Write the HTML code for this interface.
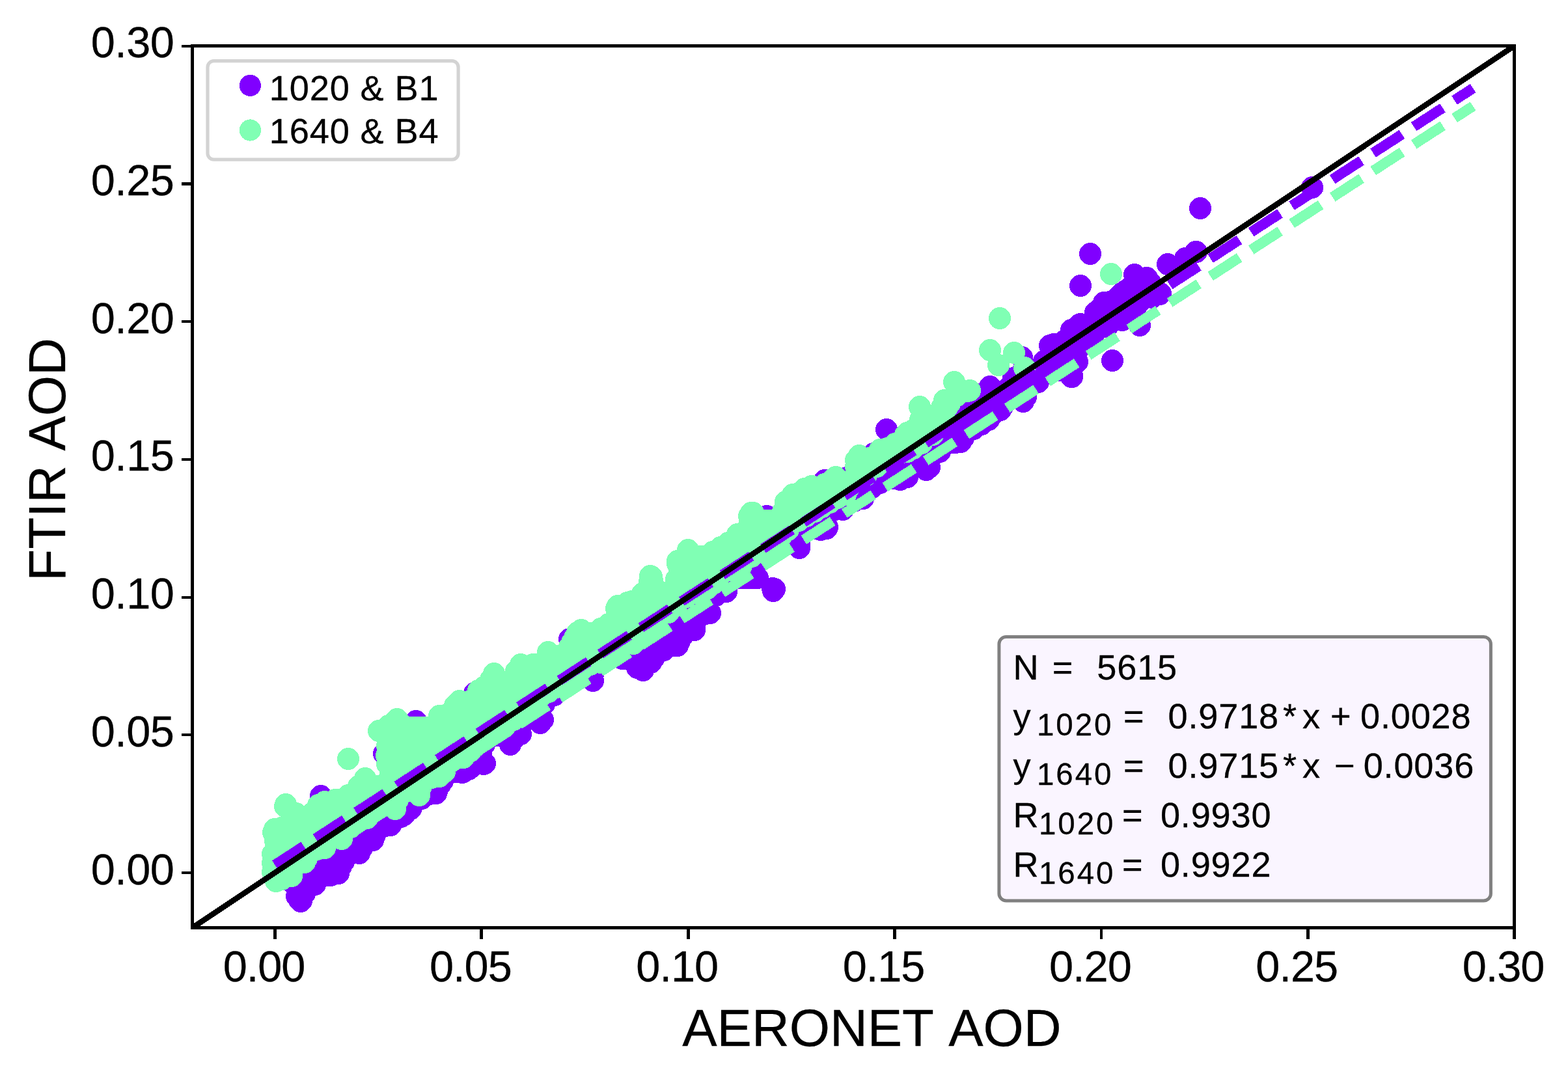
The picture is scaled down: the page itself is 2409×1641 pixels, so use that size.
<!DOCTYPE html>
<html lang="en"><head><meta charset="utf-8"><title>FTIR AOD vs AERONET AOD</title>
<style>html,body{margin:0;padding:0;background:#fff;width:2409px;height:1641px}svg{display:block}text{font-family:"Liberation Sans",Arial,sans-serif;fill:#000;stroke:#000;stroke-width:.3px;font-kerning:none}</style></head>
<body>
<svg width="2409" height="1641" viewBox="0 0 2409 1641" shape-rendering="crispEdges">
<rect width="2409" height="1641" fill="#fff"/>
<clipPath id="ax"><rect x="295.5" y="70.5" width="2031.0" height="1355.0"/></clipPath>
<g clip-path="url(#ax)" shape-rendering="crispEdges">
<path d="M1648 521h0M1644 528h0M1652 528h0M1624 534h0M1632 534h0M1640 534h0M1648 534h0M1620 541h0M1628 541h0M1636 541h0M1644 541h0M1652 541h0M1616 548h0M1624 548h0M1632 548h0M1640 548h0M1648 548h0M1604 555h0M1612 555h0M1620 555h0M1628 555h0M1636 555h0M1644 555h0M1652 555h0M1600 562h0M1608 562h0M1616 562h0M1624 562h0M1632 562h0M1640 562h0M1648 562h0M1572 569h0M1580 569h0M1588 569h0M1596 569h0M1604 569h0M1612 569h0M1620 569h0M1628 569h0M1636 569h0M1644 569h0M1568 576h0M1576 576h0M1584 576h0M1592 576h0M1600 576h0M1564 583h0M1572 583h0M1580 583h0M1588 583h0M1596 583h0M1560 590h0M1568 590h0M1576 590h0M1584 590h0M1548 597h0M1556 597h0M1564 597h0M1572 597h0M1512 604h0M1520 604h0M1528 604h0M1536 604h0M1544 604h0M1552 604h0M1560 604h0M1568 604h0M1500 611h0M1508 611h0M1516 611h0M1524 611h0M1532 611h0M1540 611h0M1548 611h0M1556 611h0M1564 611h0M1572 611h0M1488 618h0M1496 618h0M1504 618h0M1512 618h0M1520 618h0M1528 618h0M1536 618h0M1544 618h0M1476 625h0M1484 625h0M1492 625h0M1500 625h0M1508 625h0M1516 625h0M1524 625h0M1532 625h0M1540 625h0M1464 631h0M1472 631h0M1480 631h0M1488 631h0M1496 631h0M1504 631h0M1512 631h0M1520 631h0M1528 631h0M1460 638h0M1468 638h0M1476 638h0M1484 638h0M1492 638h0M1500 638h0M1508 638h0M1516 638h0M1524 638h0M1456 645h0M1464 645h0M1472 645h0M1480 645h0M1488 645h0M1496 645h0M1504 645h0M1512 645h0M1444 652h0M1452 652h0M1460 652h0M1468 652h0M1476 652h0M1484 652h0M1492 652h0M1500 652h0M1508 652h0M1432 659h0M1440 659h0M1448 659h0M1456 659h0M1464 659h0M1472 659h0M1480 659h0M1488 659h0M1496 659h0M1420 666h0M1428 666h0M1436 666h0M1444 666h0M1452 666h0M1460 666h0M1468 666h0M1476 666h0M1484 666h0M1416 673h0M1424 673h0M1432 673h0M1440 673h0M1448 673h0M1456 673h0M1464 673h0M1472 673h0M1480 673h0M1404 680h0M1412 680h0M1420 680h0M1428 680h0M1436 680h0M1444 680h0M1452 680h0M1460 680h0M1468 680h0M1400 687h0M1408 687h0M1416 687h0M1424 687h0M1432 687h0M1440 687h0M1448 687h0M1388 694h0M1396 694h0M1404 694h0M1412 694h0M1420 694h0M1428 694h0M1436 694h0M1444 694h0M1376 701h0M1384 701h0M1392 701h0M1400 701h0M1408 701h0M1416 701h0M1424 701h0M1432 701h0M1364 708h0M1372 708h0M1380 708h0M1388 708h0M1396 708h0M1404 708h0M1412 708h0M1420 708h0M1428 708h0M1352 715h0M1360 715h0M1368 715h0M1376 715h0M1384 715h0M1392 715h0M1400 715h0M1408 715h0M1416 715h0M1424 715h0M1332 721h0M1340 721h0M1348 721h0M1356 721h0M1364 721h0M1372 721h0M1380 721h0M1388 721h0M1396 721h0M1328 728h0M1336 728h0M1344 728h0M1352 728h0M1360 728h0M1368 728h0M1376 728h0M1384 728h0M1392 728h0M1324 735h0M1332 735h0M1340 735h0M1348 735h0M1356 735h0M1364 735h0M1372 735h0M1380 735h0M1328 742h0M1336 742h0M1344 742h0M1352 742h0M1324 749h0M1332 749h0M1340 749h0M1280 756h0M1288 756h0M1296 756h0M1304 756h0M1312 756h0M1320 756h0M1328 756h0M1252 763h0M1260 763h0M1268 763h0M1276 763h0M1284 763h0M1292 763h0M1300 763h0M1308 763h0M1316 763h0M1324 763h0M1240 770h0M1248 770h0M1256 770h0M1264 770h0M1272 770h0M1280 770h0M1288 770h0M1296 770h0M1304 770h0M1312 770h0M1228 777h0M1236 777h0M1244 777h0M1252 777h0M1260 777h0M1268 777h0M1276 777h0M1284 777h0M1292 777h0M1300 777h0M1224 784h0M1232 784h0M1240 784h0M1248 784h0M1256 784h0M1264 784h0M1272 784h0M1280 784h0M1220 791h0M1228 791h0M1236 791h0M1244 791h0M1252 791h0M1260 791h0M1216 798h0M1224 798h0M1232 798h0M1240 798h0M1248 798h0M1256 798h0M1264 798h0M1212 805h0M1220 805h0M1228 805h0M1236 805h0M1244 805h0M1252 805h0M1260 805h0M1160 812h0M1168 812h0M1176 812h0M1184 812h0M1192 812h0M1200 812h0M1208 812h0M1216 812h0M1224 812h0M1232 812h0M1240 812h0M1248 812h0M1256 812h0M1264 812h0M1164 818h0M1172 818h0M1180 818h0M1188 818h0M1196 818h0M1204 818h0M1212 818h0M1220 818h0M1228 818h0M1160 825h0M1168 825h0M1176 825h0M1184 825h0M1192 825h0M1200 825h0M1208 825h0M1216 825h0M1224 825h0M1156 832h0M1164 832h0M1172 832h0M1180 832h0M1188 832h0M1196 832h0M1204 832h0M1212 832h0M1228 832h0M1144 839h0M1152 839h0M1160 839h0M1168 839h0M1176 839h0M1184 839h0M1192 839h0M1200 839h0M1140 846h0M1148 846h0M1156 846h0M1164 846h0M1172 846h0M1180 846h0M1188 846h0M1120 853h0M1128 853h0M1136 853h0M1144 853h0M1152 853h0M1160 853h0M1168 853h0M1176 853h0M1108 860h0M1116 860h0M1124 860h0M1132 860h0M1140 860h0M1148 860h0M1156 860h0M1164 860h0M1096 867h0M1104 867h0M1112 867h0M1120 867h0M1128 867h0M1136 867h0M1144 867h0M1152 867h0M1160 867h0M1076 874h0M1084 874h0M1092 874h0M1100 874h0M1108 874h0M1116 874h0M1124 874h0M1132 874h0M1140 874h0M1148 874h0M1156 874h0M1064 881h0M1072 881h0M1080 881h0M1088 881h0M1096 881h0M1104 881h0M1112 881h0M1120 881h0M1128 881h0M1136 881h0M1144 881h0M1152 881h0M1160 881h0M1060 888h0M1068 888h0M1076 888h0M1084 888h0M1092 888h0M1100 888h0M1108 888h0M1116 888h0M1124 888h0M1132 888h0M1140 888h0M1148 888h0M1156 888h0M1164 888h0M1056 895h0M1064 895h0M1072 895h0M1080 895h0M1088 895h0M1096 895h0M1104 895h0M1112 895h0M1120 895h0M1052 902h0M1060 902h0M1068 902h0M1076 902h0M1084 902h0M1092 902h0M1100 902h0M1108 902h0M1116 902h0M1008 909h0M1048 909h0M1056 909h0M1064 909h0M1072 909h0M1080 909h0M1088 909h0M1096 909h0M1104 909h0M1112 909h0M1012 915h0M1052 915h0M1060 915h0M1068 915h0M1076 915h0M1084 915h0M1092 915h0M1100 915h0M1008 922h0M1016 922h0M1040 922h0M1048 922h0M1056 922h0M1064 922h0M1072 922h0M1080 922h0M1088 922h0M1004 929h0M1012 929h0M1020 929h0M1028 929h0M1036 929h0M1044 929h0M1052 929h0M1060 929h0M1068 929h0M1076 929h0M1084 929h0M992 936h0M1000 936h0M1008 936h0M1016 936h0M1024 936h0M1032 936h0M1040 936h0M1048 936h0M1056 936h0M1064 936h0M1072 936h0M1080 936h0M1088 936h0M972 943h0M980 943h0M988 943h0M996 943h0M1004 943h0M1012 943h0M1020 943h0M1028 943h0M1036 943h0M1044 943h0M1052 943h0M1060 943h0M1068 943h0M1076 943h0M1084 943h0M960 950h0M968 950h0M976 950h0M984 950h0M992 950h0M1000 950h0M1008 950h0M1016 950h0M1024 950h0M1032 950h0M1040 950h0M1048 950h0M1056 950h0M1064 950h0M1072 950h0M964 957h0M972 957h0M980 957h0M988 957h0M996 957h0M1004 957h0M1012 957h0M1020 957h0M1028 957h0M1036 957h0M1044 957h0M1052 957h0M1060 957h0M1068 957h0M960 964h0M968 964h0M976 964h0M984 964h0M992 964h0M1000 964h0M1008 964h0M1016 964h0M1024 964h0M1032 964h0M1040 964h0M1048 964h0M1056 964h0M1064 964h0M948 971h0M956 971h0M964 971h0M972 971h0M980 971h0M988 971h0M996 971h0M1004 971h0M1012 971h0M1020 971h0M1028 971h0M1036 971h0M1044 971h0M1052 971h0M936 978h0M944 978h0M952 978h0M960 978h0M968 978h0M976 978h0M984 978h0M992 978h0M1000 978h0M1008 978h0M1016 978h0M1024 978h0M1032 978h0M1040 978h0M1048 978h0M900 985h0M908 985h0M916 985h0M924 985h0M932 985h0M940 985h0M948 985h0M956 985h0M964 985h0M972 985h0M980 985h0M988 985h0M996 985h0M1004 985h0M1012 985h0M1020 985h0M1028 985h0M1036 985h0M1044 985h0M896 992h0M904 992h0M912 992h0M920 992h0M928 992h0M936 992h0M944 992h0M952 992h0M960 992h0M968 992h0M976 992h0M984 992h0M992 992h0M1000 992h0M1008 992h0M1016 992h0M1024 992h0M1032 992h0M1040 992h0M892 999h0M900 999h0M908 999h0M916 999h0M924 999h0M932 999h0M940 999h0M948 999h0M956 999h0M964 999h0M972 999h0M980 999h0M988 999h0M996 999h0M1004 999h0M1012 999h0M1020 999h0M888 1006h0M896 1006h0M904 1006h0M912 1006h0M920 1006h0M928 1006h0M936 1006h0M944 1006h0M952 1006h0M960 1006h0M968 1006h0M976 1006h0M984 1006h0M992 1006h0M1000 1006h0M1008 1006h0M884 1012h0M892 1012h0M900 1012h0M908 1012h0M916 1012h0M924 1012h0M932 1012h0M956 1012h0M964 1012h0M972 1012h0M980 1012h0M988 1012h0M996 1012h0M1004 1012h0M880 1019h0M888 1019h0M896 1019h0M904 1019h0M912 1019h0M920 1019h0M976 1019h0M984 1019h0M992 1019h0M852 1026h0M860 1026h0M868 1026h0M876 1026h0M884 1026h0M892 1026h0M900 1026h0M908 1026h0M916 1026h0M988 1026h0M840 1033h0M848 1033h0M856 1033h0M864 1033h0M872 1033h0M880 1033h0M888 1033h0M896 1033h0M904 1033h0M912 1033h0M812 1040h0M820 1040h0M828 1040h0M836 1040h0M844 1040h0M852 1040h0M860 1040h0M868 1040h0M876 1040h0M884 1040h0M908 1040h0M808 1047h0M816 1047h0M824 1047h0M832 1047h0M840 1047h0M848 1047h0M856 1047h0M864 1047h0M872 1047h0M880 1047h0M796 1054h0M804 1054h0M812 1054h0M820 1054h0M828 1054h0M836 1054h0M844 1054h0M852 1054h0M860 1054h0M868 1054h0M768 1061h0M776 1061h0M784 1061h0M792 1061h0M800 1061h0M808 1061h0M816 1061h0M824 1061h0M832 1061h0M840 1061h0M848 1061h0M856 1061h0M764 1068h0M772 1068h0M780 1068h0M788 1068h0M796 1068h0M804 1068h0M812 1068h0M820 1068h0M828 1068h0M836 1068h0M844 1068h0M852 1068h0M752 1075h0M760 1075h0M768 1075h0M776 1075h0M784 1075h0M792 1075h0M800 1075h0M808 1075h0M816 1075h0M824 1075h0M832 1075h0M840 1075h0M740 1082h0M748 1082h0M756 1082h0M764 1082h0M772 1082h0M780 1082h0M788 1082h0M796 1082h0M804 1082h0M812 1082h0M820 1082h0M828 1082h0M836 1082h0M736 1089h0M744 1089h0M752 1089h0M760 1089h0M768 1089h0M776 1089h0M784 1089h0M792 1089h0M800 1089h0M808 1089h0M816 1089h0M824 1089h0M716 1096h0M724 1096h0M732 1096h0M740 1096h0M748 1096h0M756 1096h0M764 1096h0M772 1096h0M780 1096h0M788 1096h0M796 1096h0M804 1096h0M812 1096h0M820 1096h0M828 1096h0M712 1103h0M720 1103h0M728 1103h0M736 1103h0M744 1103h0M752 1103h0M760 1103h0M768 1103h0M776 1103h0M784 1103h0M792 1103h0M800 1103h0M808 1103h0M816 1103h0M824 1103h0M700 1109h0M708 1109h0M716 1109h0M724 1109h0M732 1109h0M740 1109h0M748 1109h0M756 1109h0M764 1109h0M772 1109h0M780 1109h0M788 1109h0M796 1109h0M804 1109h0M688 1116h0M696 1116h0M704 1116h0M712 1116h0M720 1116h0M728 1116h0M736 1116h0M744 1116h0M752 1116h0M760 1116h0M768 1116h0M776 1116h0M784 1116h0M792 1116h0M800 1116h0M620 1123h0M684 1123h0M692 1123h0M700 1123h0M708 1123h0M716 1123h0M724 1123h0M732 1123h0M740 1123h0M748 1123h0M756 1123h0M764 1123h0M772 1123h0M780 1123h0M788 1123h0M796 1123h0M608 1130h0M616 1130h0M624 1130h0M672 1130h0M680 1130h0M688 1130h0M696 1130h0M704 1130h0M712 1130h0M720 1130h0M728 1130h0M736 1130h0M744 1130h0M752 1130h0M760 1130h0M768 1130h0M776 1130h0M784 1130h0M792 1130h0M612 1137h0M620 1137h0M628 1137h0M636 1137h0M644 1137h0M652 1137h0M660 1137h0M668 1137h0M676 1137h0M684 1137h0M692 1137h0M700 1137h0M708 1137h0M716 1137h0M724 1137h0M732 1137h0M740 1137h0M748 1137h0M780 1137h0M608 1144h0M616 1144h0M624 1144h0M632 1144h0M640 1144h0M648 1144h0M656 1144h0M664 1144h0M672 1144h0M680 1144h0M688 1144h0M696 1144h0M704 1144h0M712 1144h0M720 1144h0M728 1144h0M736 1144h0M744 1144h0M612 1151h0M620 1151h0M628 1151h0M636 1151h0M644 1151h0M652 1151h0M660 1151h0M668 1151h0M676 1151h0M684 1151h0M692 1151h0M700 1151h0M708 1151h0M716 1151h0M724 1151h0M732 1151h0M740 1151h0M608 1158h0M616 1158h0M624 1158h0M632 1158h0M640 1158h0M648 1158h0M656 1158h0M664 1158h0M672 1158h0M680 1158h0M688 1158h0M696 1158h0M704 1158h0M712 1158h0M720 1158h0M728 1158h0M736 1158h0M604 1165h0M612 1165h0M620 1165h0M628 1165h0M636 1165h0M644 1165h0M652 1165h0M660 1165h0M668 1165h0M676 1165h0M684 1165h0M692 1165h0M700 1165h0M708 1165h0M716 1165h0M724 1165h0M732 1165h0M740 1165h0M608 1172h0M616 1172h0M624 1172h0M632 1172h0M640 1172h0M648 1172h0M656 1172h0M664 1172h0M672 1172h0M680 1172h0M688 1172h0M696 1172h0M704 1172h0M712 1172h0M720 1172h0M728 1172h0M736 1172h0M604 1179h0M612 1179h0M620 1179h0M628 1179h0M636 1179h0M644 1179h0M652 1179h0M660 1179h0M668 1179h0M676 1179h0M684 1179h0M692 1179h0M700 1179h0M708 1179h0M716 1179h0M724 1179h0M608 1186h0M616 1186h0M624 1186h0M632 1186h0M640 1186h0M648 1186h0M656 1186h0M664 1186h0M672 1186h0M680 1186h0M688 1186h0M696 1186h0M704 1186h0M712 1186h0M604 1193h0M612 1193h0M620 1193h0M628 1193h0M636 1193h0M644 1193h0M652 1193h0M660 1193h0M668 1193h0M676 1193h0M684 1193h0M608 1200h0M616 1200h0M624 1200h0M632 1200h0M640 1200h0M648 1200h0M656 1200h0M664 1200h0M672 1200h0M680 1200h0M604 1206h0M612 1206h0M620 1206h0M628 1206h0M636 1206h0M644 1206h0M652 1206h0M660 1206h0M668 1206h0M676 1206h0M608 1213h0M616 1213h0M624 1213h0M632 1213h0M640 1213h0M648 1213h0M656 1213h0M664 1213h0M672 1213h0M564 1220h0M572 1220h0M580 1220h0M588 1220h0M596 1220h0M604 1220h0M612 1220h0M620 1220h0M628 1220h0M636 1220h0M644 1220h0M652 1220h0M660 1220h0M560 1227h0M568 1227h0M576 1227h0M584 1227h0M592 1227h0M600 1227h0M608 1227h0M616 1227h0M624 1227h0M632 1227h0M640 1227h0M648 1227h0M548 1234h0M556 1234h0M564 1234h0M572 1234h0M580 1234h0M588 1234h0M596 1234h0M604 1234h0M612 1234h0M620 1234h0M628 1234h0M636 1234h0M544 1241h0M552 1241h0M560 1241h0M568 1241h0M576 1241h0M584 1241h0M592 1241h0M600 1241h0M608 1241h0M616 1241h0M624 1241h0M632 1241h0M508 1248h0M516 1248h0M524 1248h0M532 1248h0M540 1248h0M548 1248h0M556 1248h0M564 1248h0M572 1248h0M580 1248h0M588 1248h0M596 1248h0M604 1248h0M612 1248h0M620 1248h0M504 1255h0M512 1255h0M520 1255h0M528 1255h0M536 1255h0M544 1255h0M552 1255h0M560 1255h0M568 1255h0M576 1255h0M584 1255h0M592 1255h0M600 1255h0M608 1255h0M616 1255h0M500 1262h0M508 1262h0M516 1262h0M524 1262h0M532 1262h0M540 1262h0M548 1262h0M556 1262h0M564 1262h0M572 1262h0M580 1262h0M588 1262h0M596 1262h0M604 1262h0M456 1269h0M464 1269h0M472 1269h0M480 1269h0M488 1269h0M496 1269h0M504 1269h0M512 1269h0M520 1269h0M528 1269h0M536 1269h0M544 1269h0M552 1269h0M560 1269h0M568 1269h0M576 1269h0M584 1269h0M592 1269h0M460 1276h0M468 1276h0M476 1276h0M484 1276h0M492 1276h0M500 1276h0M508 1276h0M516 1276h0M524 1276h0M532 1276h0M540 1276h0M548 1276h0M556 1276h0M564 1276h0M572 1276h0M580 1276h0M448 1283h0M456 1283h0M464 1283h0M472 1283h0M480 1283h0M488 1283h0M496 1283h0M504 1283h0M512 1283h0M520 1283h0M528 1283h0M536 1283h0M544 1283h0M552 1283h0M560 1283h0M568 1283h0M576 1283h0M436 1290h0M444 1290h0M452 1290h0M460 1290h0M468 1290h0M476 1290h0M484 1290h0M492 1290h0M500 1290h0M508 1290h0M516 1290h0M524 1290h0M532 1290h0M540 1290h0M548 1290h0M556 1290h0M564 1290h0M572 1290h0M432 1297h0M440 1297h0M448 1297h0M456 1297h0M464 1297h0M472 1297h0M480 1297h0M488 1297h0M496 1297h0M504 1297h0M512 1297h0M520 1297h0M528 1297h0M536 1297h0M544 1297h0M552 1297h0M560 1297h0M436 1303h0M444 1303h0M452 1303h0M460 1303h0M468 1303h0M476 1303h0M484 1303h0M492 1303h0M500 1303h0M508 1303h0M516 1303h0M524 1303h0M532 1303h0M540 1303h0M548 1303h0M556 1303h0M432 1310h0M440 1310h0M448 1310h0M456 1310h0M464 1310h0M472 1310h0M480 1310h0M488 1310h0M496 1310h0M504 1310h0M512 1310h0M520 1310h0M528 1310h0M536 1310h0M544 1310h0M436 1317h0M444 1317h0M452 1317h0M460 1317h0M468 1317h0M476 1317h0M484 1317h0M492 1317h0M500 1317h0M508 1317h0M516 1317h0M524 1317h0M532 1317h0M432 1324h0M440 1324h0M448 1324h0M456 1324h0M464 1324h0M472 1324h0M480 1324h0M488 1324h0M496 1324h0M504 1324h0M512 1324h0M520 1324h0M528 1324h0M428 1331h0M436 1331h0M444 1331h0M452 1331h0M460 1331h0M468 1331h0M476 1331h0M484 1331h0M492 1331h0M500 1331h0M508 1331h0M516 1331h0M524 1331h0M432 1338h0M440 1338h0M448 1338h0M456 1338h0M464 1338h0M472 1338h0M480 1338h0M488 1338h0M496 1338h0M504 1338h0M512 1338h0M520 1338h0M436 1345h0M444 1345h0M452 1345h0M460 1345h0M468 1345h0M476 1345h0M484 1345h0M492 1345h0M500 1345h0M508 1345h0M448 1352h0M456 1352h0M464 1352h0M472 1352h0M480 1352h0M488 1352h0M452 1359h0M460 1359h0M468 1359h0M476 1359h0M484 1359h0M456 1366h0M464 1366h0M472 1366h0M460 1373h0M468 1373h0M464 1380h0M456 1377h0M460 1383h0M462 1385h0M463 1384h0M520 1342h0M552 1311h0M573 1291h0M600 1268h0M621 1252h0M631 1243h0M670 1219h0M710 1187h0M720 1182h0M745 1173h0M743 1174h0M784 1144h0M788 1137h0M800 1128h0M830 1111h0M834 1106h0M911 1046h0M979 1026h0M988 1030h0M1000 1018h0M1041 992h0M1067 968h0M1091 942h0M1116 909h0M1188 908h0M1190 905h0M1187 904h0M1228 842h0M1228 834h0M1261 814h0M1271 810h0M1270 812h0M1295 783h0M1326 766h0M1383 737h0M1394 733h0M1423 722h0M1428 718h0M1476 679h0M1519 645h0M1537 630h0M1572 617h0M1576 610h0M1595 587h0M1647 579h0M1647 577h0M1655 556h0M1521 594h0M1557 581h0M1570 549h0M1619 529h0M1660 498h0M493 1223h0M590 1158h0M639 1108h0M729 1065h0M729 1065h0M875 982h0M1178 793h0M1267 738h0M1301 734h0M1342 697h0M1362 660h0M1675 390h0M1660 439h0M1844 320h0M1709 554h0M1751 500h0M1658 499h0M1683 480h0M1696 465h0M1719 455h0M1729 447h0M1743 422h0M1761 427h0M1767 434h0M1794 406h0M1821 397h0M1837 387h0M1655 556h0M1646 579h0M1750 465h0M1781 450h0M1708 463h0M1635 524h0M1613 531h0M1625 538h0M1646 507h0M1844 320h0M1675 390h0M1660 439h0M1838 387h0M1824 397h0M1794 406h0M1743 422h0M1762 427h0M1766 437h0M1783 451h0M1697 466h0M1723 451h0M1736 442h0M1749 457h0M1687 477h0M2016 288h0M1681 512h0M1701 502h0M1724 492h0M1744 477h0M1770 457h0M1782 452h0M1669 522h0M1658 535h0" fill="none" stroke="#8000ff" stroke-width="34" stroke-linecap="round"/>
<path d="M1451 620h0M1459 620h0M1447 626h0M1455 626h0M1443 633h0M1451 633h0M1431 640h0M1439 640h0M1447 640h0M1419 647h0M1427 647h0M1435 647h0M1443 647h0M1415 654h0M1423 654h0M1431 654h0M1439 654h0M1403 661h0M1411 661h0M1419 661h0M1427 661h0M1435 661h0M1391 668h0M1399 668h0M1407 668h0M1415 668h0M1423 668h0M1431 668h0M1387 675h0M1395 675h0M1403 675h0M1411 675h0M1419 675h0M1375 682h0M1383 682h0M1391 682h0M1399 682h0M1407 682h0M1363 689h0M1371 689h0M1379 689h0M1387 689h0M1395 689h0M1403 689h0M1351 696h0M1359 696h0M1367 696h0M1375 696h0M1383 696h0M1339 703h0M1347 703h0M1355 703h0M1363 703h0M1319 710h0M1327 710h0M1335 710h0M1343 710h0M1351 710h0M1315 717h0M1323 717h0M1331 717h0M1339 717h0M1347 717h0M1319 723h0M1327 723h0M1335 723h0M1315 730h0M1323 730h0M1331 730h0M1279 737h0M1287 737h0M1311 737h0M1319 737h0M1267 744h0M1275 744h0M1283 744h0M1291 744h0M1299 744h0M1307 744h0M1239 751h0M1247 751h0M1255 751h0M1263 751h0M1271 751h0M1279 751h0M1287 751h0M1295 751h0M1303 751h0M1227 758h0M1235 758h0M1243 758h0M1251 758h0M1259 758h0M1267 758h0M1275 758h0M1283 758h0M1291 758h0M1299 758h0M1215 765h0M1223 765h0M1231 765h0M1239 765h0M1247 765h0M1255 765h0M1263 765h0M1271 765h0M1279 765h0M1287 765h0M1211 772h0M1219 772h0M1227 772h0M1235 772h0M1243 772h0M1251 772h0M1259 772h0M1267 772h0M1275 772h0M1207 779h0M1215 779h0M1223 779h0M1231 779h0M1239 779h0M1247 779h0M1255 779h0M1263 779h0M1203 786h0M1211 786h0M1219 786h0M1227 786h0M1235 786h0M1243 786h0M1251 786h0M1159 793h0M1199 793h0M1207 793h0M1215 793h0M1223 793h0M1231 793h0M1239 793h0M1155 800h0M1163 800h0M1171 800h0M1179 800h0M1187 800h0M1195 800h0M1203 800h0M1211 800h0M1219 800h0M1227 800h0M1151 807h0M1159 807h0M1167 807h0M1175 807h0M1183 807h0M1191 807h0M1199 807h0M1207 807h0M1215 807h0M1147 814h0M1155 814h0M1163 814h0M1171 814h0M1179 814h0M1187 814h0M1195 814h0M1203 814h0M1211 814h0M1143 820h0M1151 820h0M1159 820h0M1167 820h0M1175 820h0M1183 820h0M1191 820h0M1199 820h0M1131 827h0M1139 827h0M1147 827h0M1155 827h0M1163 827h0M1171 827h0M1179 827h0M1187 827h0M1195 827h0M1119 834h0M1127 834h0M1135 834h0M1143 834h0M1151 834h0M1159 834h0M1167 834h0M1175 834h0M1183 834h0M1107 841h0M1115 841h0M1123 841h0M1131 841h0M1139 841h0M1147 841h0M1155 841h0M1163 841h0M1171 841h0M1095 848h0M1103 848h0M1111 848h0M1119 848h0M1127 848h0M1135 848h0M1143 848h0M1151 848h0M1159 848h0M1167 848h0M1075 855h0M1083 855h0M1091 855h0M1099 855h0M1107 855h0M1115 855h0M1123 855h0M1131 855h0M1139 855h0M1147 855h0M1155 855h0M1063 862h0M1071 862h0M1079 862h0M1087 862h0M1095 862h0M1103 862h0M1111 862h0M1119 862h0M1127 862h0M1135 862h0M1143 862h0M1051 869h0M1059 869h0M1067 869h0M1075 869h0M1083 869h0M1091 869h0M1099 869h0M1107 869h0M1115 869h0M1123 869h0M1131 869h0M1139 869h0M1047 876h0M1055 876h0M1063 876h0M1071 876h0M1079 876h0M1087 876h0M1095 876h0M1103 876h0M1111 876h0M1119 876h0M1043 883h0M1051 883h0M1059 883h0M1067 883h0M1075 883h0M1083 883h0M1091 883h0M1099 883h0M1107 883h0M1039 890h0M1047 890h0M1055 890h0M1063 890h0M1071 890h0M1079 890h0M1087 890h0M1095 890h0M1103 890h0M1003 897h0M1043 897h0M1051 897h0M1059 897h0M1067 897h0M1075 897h0M1083 897h0M1091 897h0M999 904h0M1007 904h0M1039 904h0M1047 904h0M1055 904h0M1063 904h0M1071 904h0M1079 904h0M1087 904h0M995 911h0M1003 911h0M1011 911h0M1019 911h0M1027 911h0M1035 911h0M1043 911h0M1051 911h0M1059 911h0M1067 911h0M1075 911h0M991 917h0M999 917h0M1007 917h0M1015 917h0M1023 917h0M1031 917h0M1039 917h0M1047 917h0M1055 917h0M971 924h0M979 924h0M987 924h0M995 924h0M1003 924h0M1011 924h0M1019 924h0M1027 924h0M1035 924h0M1043 924h0M959 931h0M967 931h0M975 931h0M983 931h0M991 931h0M999 931h0M1007 931h0M1015 931h0M1023 931h0M1031 931h0M1039 931h0M955 938h0M963 938h0M971 938h0M979 938h0M987 938h0M995 938h0M1003 938h0M1011 938h0M1019 938h0M1027 938h0M951 945h0M959 945h0M967 945h0M975 945h0M983 945h0M991 945h0M999 945h0M1007 945h0M1015 945h0M947 952h0M955 952h0M963 952h0M971 952h0M979 952h0M987 952h0M995 952h0M1003 952h0M935 959h0M943 959h0M951 959h0M959 959h0M967 959h0M975 959h0M983 959h0M991 959h0M999 959h0M923 966h0M931 966h0M939 966h0M947 966h0M955 966h0M963 966h0M971 966h0M979 966h0M987 966h0M995 966h0M887 973h0M895 973h0M903 973h0M911 973h0M919 973h0M927 973h0M935 973h0M943 973h0M951 973h0M959 973h0M967 973h0M975 973h0M983 973h0M883 980h0M891 980h0M899 980h0M907 980h0M915 980h0M923 980h0M931 980h0M939 980h0M947 980h0M955 980h0M963 980h0M971 980h0M979 980h0M879 987h0M887 987h0M895 987h0M903 987h0M911 987h0M919 987h0M927 987h0M935 987h0M943 987h0M951 987h0M959 987h0M967 987h0M975 987h0M875 994h0M883 994h0M891 994h0M899 994h0M907 994h0M915 994h0M923 994h0M931 994h0M939 994h0M947 994h0M955 994h0M871 1001h0M879 1001h0M887 1001h0M895 1001h0M903 1001h0M911 1001h0M919 1001h0M927 1001h0M935 1001h0M943 1001h0M843 1008h0M859 1008h0M867 1008h0M875 1008h0M883 1008h0M891 1008h0M899 1008h0M907 1008h0M915 1008h0M923 1008h0M931 1008h0M839 1014h0M847 1014h0M855 1014h0M863 1014h0M871 1014h0M879 1014h0M887 1014h0M895 1014h0M903 1014h0M911 1014h0M919 1014h0M927 1014h0M819 1021h0M827 1021h0M835 1021h0M843 1021h0M851 1021h0M859 1021h0M867 1021h0M875 1021h0M883 1021h0M891 1021h0M899 1021h0M907 1021h0M799 1028h0M807 1028h0M815 1028h0M823 1028h0M831 1028h0M839 1028h0M847 1028h0M855 1028h0M863 1028h0M871 1028h0M879 1028h0M887 1028h0M895 1028h0M795 1035h0M803 1035h0M811 1035h0M819 1035h0M827 1035h0M835 1035h0M843 1035h0M851 1035h0M859 1035h0M867 1035h0M875 1035h0M883 1035h0M759 1042h0M791 1042h0M799 1042h0M807 1042h0M815 1042h0M823 1042h0M831 1042h0M839 1042h0M847 1042h0M855 1042h0M863 1042h0M871 1042h0M879 1042h0M755 1049h0M763 1049h0M771 1049h0M779 1049h0M787 1049h0M795 1049h0M803 1049h0M811 1049h0M819 1049h0M827 1049h0M835 1049h0M843 1049h0M851 1049h0M859 1049h0M867 1049h0M743 1056h0M751 1056h0M759 1056h0M767 1056h0M775 1056h0M783 1056h0M791 1056h0M799 1056h0M807 1056h0M815 1056h0M823 1056h0M831 1056h0M839 1056h0M847 1056h0M855 1056h0M739 1063h0M747 1063h0M755 1063h0M763 1063h0M771 1063h0M779 1063h0M787 1063h0M795 1063h0M803 1063h0M811 1063h0M819 1063h0M827 1063h0M835 1063h0M843 1063h0M735 1070h0M743 1070h0M751 1070h0M759 1070h0M767 1070h0M775 1070h0M783 1070h0M791 1070h0M799 1070h0M807 1070h0M815 1070h0M823 1070h0M831 1070h0M723 1077h0M731 1077h0M739 1077h0M747 1077h0M755 1077h0M763 1077h0M771 1077h0M779 1077h0M787 1077h0M795 1077h0M803 1077h0M811 1077h0M819 1077h0M703 1084h0M711 1084h0M719 1084h0M727 1084h0M735 1084h0M743 1084h0M751 1084h0M759 1084h0M767 1084h0M775 1084h0M783 1084h0M791 1084h0M799 1084h0M807 1084h0M699 1091h0M707 1091h0M715 1091h0M723 1091h0M731 1091h0M739 1091h0M747 1091h0M755 1091h0M763 1091h0M771 1091h0M779 1091h0M787 1091h0M795 1091h0M803 1091h0M687 1098h0M695 1098h0M703 1098h0M711 1098h0M719 1098h0M727 1098h0M735 1098h0M743 1098h0M751 1098h0M759 1098h0M767 1098h0M775 1098h0M783 1098h0M791 1098h0M675 1105h0M683 1105h0M691 1105h0M699 1105h0M707 1105h0M715 1105h0M723 1105h0M731 1105h0M739 1105h0M747 1105h0M755 1105h0M763 1105h0M771 1105h0M779 1105h0M787 1105h0M607 1111h0M615 1111h0M671 1111h0M679 1111h0M687 1111h0M695 1111h0M703 1111h0M711 1111h0M719 1111h0M727 1111h0M735 1111h0M743 1111h0M751 1111h0M759 1111h0M767 1111h0M775 1111h0M603 1118h0M611 1118h0M619 1118h0M627 1118h0M635 1118h0M643 1118h0M651 1118h0M659 1118h0M667 1118h0M675 1118h0M683 1118h0M691 1118h0M699 1118h0M707 1118h0M715 1118h0M723 1118h0M731 1118h0M739 1118h0M747 1118h0M755 1118h0M763 1118h0M771 1118h0M599 1125h0M607 1125h0M615 1125h0M623 1125h0M631 1125h0M639 1125h0M647 1125h0M655 1125h0M663 1125h0M671 1125h0M679 1125h0M687 1125h0M695 1125h0M703 1125h0M711 1125h0M719 1125h0M727 1125h0M735 1125h0M743 1125h0M751 1125h0M603 1132h0M611 1132h0M619 1132h0M627 1132h0M635 1132h0M643 1132h0M651 1132h0M659 1132h0M667 1132h0M675 1132h0M683 1132h0M691 1132h0M699 1132h0M707 1132h0M715 1132h0M723 1132h0M731 1132h0M739 1132h0M747 1132h0M599 1139h0M607 1139h0M615 1139h0M623 1139h0M631 1139h0M639 1139h0M647 1139h0M655 1139h0M663 1139h0M671 1139h0M679 1139h0M687 1139h0M695 1139h0M703 1139h0M711 1139h0M719 1139h0M727 1139h0M735 1139h0M595 1146h0M603 1146h0M611 1146h0M619 1146h0M627 1146h0M635 1146h0M643 1146h0M651 1146h0M659 1146h0M667 1146h0M675 1146h0M683 1146h0M691 1146h0M699 1146h0M707 1146h0M715 1146h0M723 1146h0M731 1146h0M599 1153h0M607 1153h0M615 1153h0M623 1153h0M631 1153h0M639 1153h0M647 1153h0M655 1153h0M663 1153h0M671 1153h0M679 1153h0M687 1153h0M695 1153h0M703 1153h0M711 1153h0M719 1153h0M595 1160h0M603 1160h0M611 1160h0M619 1160h0M627 1160h0M635 1160h0M643 1160h0M651 1160h0M659 1160h0M667 1160h0M675 1160h0M683 1160h0M691 1160h0M699 1160h0M707 1160h0M715 1160h0M599 1167h0M607 1167h0M615 1167h0M623 1167h0M631 1167h0M639 1167h0M647 1167h0M655 1167h0M663 1167h0M671 1167h0M679 1167h0M687 1167h0M695 1167h0M595 1174h0M603 1174h0M611 1174h0M619 1174h0M627 1174h0M635 1174h0M643 1174h0M651 1174h0M659 1174h0M667 1174h0M675 1174h0M683 1174h0M599 1181h0M607 1181h0M615 1181h0M623 1181h0M631 1181h0M639 1181h0M647 1181h0M655 1181h0M663 1181h0M671 1181h0M679 1181h0M603 1188h0M611 1188h0M619 1188h0M627 1188h0M635 1188h0M643 1188h0M651 1188h0M659 1188h0M667 1188h0M675 1188h0M599 1195h0M607 1195h0M615 1195h0M623 1195h0M631 1195h0M639 1195h0M647 1195h0M655 1195h0M663 1195h0M563 1201h0M595 1201h0M603 1201h0M611 1201h0M619 1201h0M627 1201h0M635 1201h0M643 1201h0M651 1201h0M551 1208h0M559 1208h0M567 1208h0M575 1208h0M583 1208h0M591 1208h0M599 1208h0M607 1208h0M615 1208h0M623 1208h0M631 1208h0M639 1208h0M647 1208h0M547 1215h0M555 1215h0M563 1215h0M571 1215h0M579 1215h0M587 1215h0M595 1215h0M603 1215h0M611 1215h0M619 1215h0M627 1215h0M635 1215h0M643 1215h0M535 1222h0M543 1222h0M551 1222h0M559 1222h0M567 1222h0M575 1222h0M583 1222h0M591 1222h0M599 1222h0M607 1222h0M615 1222h0M515 1229h0M523 1229h0M531 1229h0M539 1229h0M547 1229h0M555 1229h0M563 1229h0M571 1229h0M579 1229h0M587 1229h0M595 1229h0M603 1229h0M611 1229h0M495 1236h0M503 1236h0M511 1236h0M519 1236h0M527 1236h0M535 1236h0M543 1236h0M551 1236h0M559 1236h0M567 1236h0M575 1236h0M583 1236h0M591 1236h0M599 1236h0M607 1236h0M491 1243h0M499 1243h0M507 1243h0M515 1243h0M523 1243h0M531 1243h0M539 1243h0M547 1243h0M555 1243h0M563 1243h0M571 1243h0M579 1243h0M447 1250h0M455 1250h0M479 1250h0M487 1250h0M495 1250h0M503 1250h0M511 1250h0M519 1250h0M527 1250h0M535 1250h0M543 1250h0M551 1250h0M559 1250h0M567 1250h0M451 1257h0M459 1257h0M467 1257h0M475 1257h0M483 1257h0M491 1257h0M499 1257h0M507 1257h0M515 1257h0M523 1257h0M531 1257h0M539 1257h0M547 1257h0M555 1257h0M563 1257h0M447 1264h0M455 1264h0M463 1264h0M471 1264h0M479 1264h0M487 1264h0M495 1264h0M503 1264h0M511 1264h0M519 1264h0M527 1264h0M535 1264h0M543 1264h0M435 1271h0M443 1271h0M451 1271h0M459 1271h0M467 1271h0M475 1271h0M483 1271h0M491 1271h0M499 1271h0M507 1271h0M515 1271h0M523 1271h0M531 1271h0M539 1271h0M423 1278h0M431 1278h0M439 1278h0M447 1278h0M455 1278h0M463 1278h0M471 1278h0M479 1278h0M487 1278h0M495 1278h0M503 1278h0M511 1278h0M519 1278h0M527 1278h0M427 1285h0M435 1285h0M443 1285h0M451 1285h0M459 1285h0M467 1285h0M475 1285h0M483 1285h0M491 1285h0M499 1285h0M507 1285h0M515 1285h0M523 1285h0M423 1292h0M431 1292h0M439 1292h0M447 1292h0M455 1292h0M463 1292h0M471 1292h0M479 1292h0M487 1292h0M495 1292h0M503 1292h0M427 1298h0M435 1298h0M443 1298h0M451 1298h0M459 1298h0M467 1298h0M475 1298h0M483 1298h0M491 1298h0M499 1298h0M423 1305h0M431 1305h0M439 1305h0M447 1305h0M455 1305h0M463 1305h0M471 1305h0M479 1305h0M487 1305h0M419 1312h0M427 1312h0M435 1312h0M443 1312h0M451 1312h0M459 1312h0M467 1312h0M475 1312h0M423 1319h0M431 1319h0M439 1319h0M447 1319h0M455 1319h0M463 1319h0M471 1319h0M419 1326h0M427 1326h0M435 1326h0M443 1326h0M451 1326h0M459 1326h0M423 1333h0M431 1333h0M439 1333h0M447 1333h0M419 1340h0M427 1340h0M435 1340h0M443 1340h0M423 1347h0M431 1347h0M439 1347h0M420 1279h0M422 1274h0M438 1239h0M439 1236h0M489 1237h0M499 1232h0M561 1196h0M594 1161h0M597 1115h0M606 1109h0M610 1105h0M675 1100h0M699 1084h0M706 1077h0M735 1061h0M754 1044h0M759 1035h0M793 1031h0M800 1021h0M842 1002h0M887 972h0M893 968h0M949 931h0M969 925h0M998 894h0M1001 886h0M1002 892h0M1041 866h0M1151 793h0M1157 788h0M1207 771h0M1218 760h0M1236 751h0M1247 747h0M1280 736h0M1284 733h0M1315 707h0M1320 700h0M1352 691h0M1394 665h0M1414 645h0M1413 625h0M1451 615h0M424 1354h0M433 1351h0M448 1346h0M468 1325h0M499 1303h0M525 1289h0M564 1257h0M607 1243h0M644 1222h0M675 1193h0M683 1186h0M712 1164h0M723 1154h0M775 1117h0M789 1106h0M875 1047h0M923 1018h0M973 989h0M986 979h0M1027 941h0M1079 910h0M1097 896h0M1136 872h0M1181 840h0M1200 824h0M1252 786h0M1299 760h0M1394 694h0M1416 681h0M1433 668h0M1486 601h0M535 1166h0M582 1123h0M1536 489h0M1521 538h0M1558 542h0M1534 561h0M1574 565h0M1466 587h0M1490 600h0M1470 608h0M1452 615h0M1707 421h0M999 885h0M1057 845h0M1041 862h0M1154 788h0M1133 821h0M1110 841h0M1085 856h0M964 926h0M947 935h0M987 912h0M1707 421h0" fill="none" stroke="#80ffb4" stroke-width="34" stroke-linecap="round"/>
<line x1="422.44" y1="1328.96" x2="2263.03" y2="135.62" stroke="#8000ff" stroke-width="15.8" stroke-dasharray="52.9 21.57"/>
<line x1="422.44" y1="1356.06" x2="2263.03" y2="163.08" stroke="#80ffb4" stroke-width="15.8" stroke-dasharray="52.9 21.57"/>
<line x1="295.50" y1="1425.50" x2="2326.50" y2="70.50" stroke="#000" stroke-width="8.7"/>
</g>
<rect x="295.5" y="70.5" width="2031.0" height="1355.0" fill="none" stroke="#000" stroke-width="5"/>
<path d="M422.54 1425.5v17.3M739.88 1425.5v17.3M1057.22 1425.5v17.3M1374.57 1425.5v17.3M1691.91 1425.5v17.3M2009.26 1425.5v17.3M2326.60 1425.5v17.3" stroke="#000" stroke-width="4.8" fill="none"/>
<path d="M295.5 1341.11h-16.6M295.5 1129.39h-16.6M295.5 917.67h-16.6M295.5 705.96h-16.6M295.5 494.24h-16.6M295.5 282.52h-16.6M295.5 70.80h-16.6" stroke="#000" stroke-width="4.1" fill="none"/>
<g font-size="66.67" letter-spacing="-1">
<text x="342.64" y="1508.1">0.00</text>
<text x="659.98" y="1508.1">0.05</text>
<text x="977.33" y="1508.1">0.10</text>
<text x="1294.67" y="1508.1">0.15</text>
<text x="1612.01" y="1508.1">0.20</text>
<text x="1929.36" y="1508.1">0.25</text>
<text x="2246.70" y="1508.1">0.30</text>
</g>
<g font-size="66.67" letter-spacing="-0.5">
<text x="139.7" y="1358.61">0.00</text>
<text x="139.7" y="1146.89">0.05</text>
<text x="139.7" y="935.17">0.10</text>
<text x="139.7" y="723.46">0.15</text>
<text x="139.7" y="511.74">0.20</text>
<text x="139.7" y="300.02">0.25</text>
<text x="139.7" y="88.30">0.30</text>
</g>
<text x="1048.2" y="1607.2" font-size="80">AERONET AOD</text>
<text transform="translate(100 706) rotate(-90)" font-size="80" text-anchor="middle">FTIR AOD</text>
<rect x="319" y="93.7" width="385.1" height="151.5" rx="9.5" ry="9.5" shape-rendering="geometricPrecision" fill="#fff" stroke="#d3d3d3" stroke-width="5.2"/>
<circle cx="384.4" cy="131.4" r="16.6" fill="#8000ff"/>
<circle cx="384.4" cy="200" r="16.6" fill="#80ffb4"/>
<g font-size="54.17" letter-spacing="0.85">
<text x="413.8" y="153.6">1020 &amp; B1</text>
<text x="413.8" y="219.6">1640 &amp; B4</text>
</g>
<rect x="1534.9" y="978.6" width="755.5" height="405.4" rx="11" ry="11" shape-rendering="geometricPrecision" fill="#faf5ff" stroke="#808080" stroke-width="5"/>
<g font-size="54.17" letter-spacing="0.8">
<text y="1043.7" xml:space="preserve"><tspan x="1556.5">N</tspan><tspan x="1616.8">=</tspan><tspan x="1685.3">5615</tspan></text>
<text y="1119.1" xml:space="preserve"><tspan x="1556.4">y</tspan><tspan x="1593" dy="11" font-size="47.5" letter-spacing="2.9">1020</tspan><tspan dy="-11" font-size="1"> </tspan><tspan x="1726.1">=</tspan><tspan x="1794.6">0.9718</tspan><tspan x="1970.9">*</tspan><tspan x="2000.9">x</tspan><tspan x="2043.9">+</tspan><tspan x="2090.0">0.0028</tspan></text>
<text y="1195.0" xml:space="preserve"><tspan x="1556.4">y</tspan><tspan x="1593" dy="11" font-size="47.5" letter-spacing="2.9">1640</tspan><tspan dy="-11" font-size="1"> </tspan><tspan x="1726.1">=</tspan><tspan x="1794.6">0.9715</tspan><tspan x="1970.9">*</tspan><tspan x="2000.9">x</tspan><tspan x="2049.9">−</tspan><tspan x="2094.7">0.0036</tspan></text>
<text y="1271.3" xml:space="preserve"><tspan x="1556.5">R</tspan><tspan x="1596" dy="11" font-size="47.5" letter-spacing="2.9">1020</tspan><tspan dy="-11" font-size="1"> </tspan><tspan x="1723.9">=</tspan><tspan x="1782.9">0.9930</tspan></text>
<text y="1347.2" xml:space="preserve"><tspan x="1556.5">R</tspan><tspan x="1596" dy="11" font-size="47.5" letter-spacing="2.9">1640</tspan><tspan dy="-11" font-size="1"> </tspan><tspan x="1723.9">=</tspan><tspan x="1782.9">0.9922</tspan></text>
</g>
</svg>
</body></html>
